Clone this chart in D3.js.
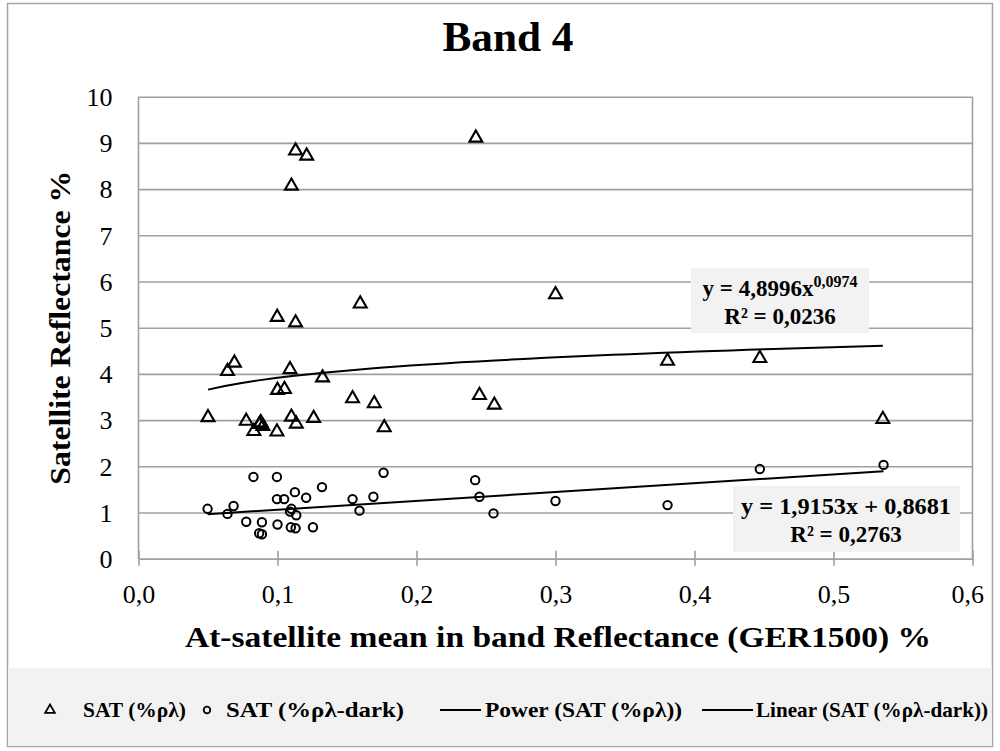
<!DOCTYPE html>
<html>
<head>
<meta charset="utf-8">
<script src="https://cdn.jsdelivr.net/npm/d3@7"></script>
<style>
  html, body { margin: 0; padding: 0; background: #fff; }
  svg text { font-family: "Palatino Linotype", "Book Antiqua", Palatino, "Liberation Serif", serif; fill: #000; }
</style>
</head>
<body>
<svg id="chart" width="1000" height="751"></svg>
<script>
// Band 4: satellite reflectance vs. at-satellite in-band reflectance (GER1500)
const satX = [0.050, 0.064, 0.069, 0.0775, 0.083, 0.087, 0.088, 0.0895, 0.0996, 0.100,
              0.105, 0.109, 0.110, 0.1135, 0.126, 0.1324, 0.154, 0.1696, 0.1768, 0.0998,
              0.113, 0.113, 0.121, 0.110, 0.1595, 0.2427, 0.300, 0.2453, 0.256, 0.3806,
              0.447, 0.5355];
const satY = [3.08, 4.08, 4.26, 3.00, 2.78, 2.93, 2.97, 2.89, 2.77, 3.67,
              3.69, 4.12, 3.09, 2.94, 3.06, 3.94, 3.49, 3.38, 2.86, 5.25,
              5.13, 8.85, 8.74, 8.09, 5.54, 9.13, 5.74, 3.56, 3.35, 4.30,
              4.36, 3.04];

const darkX = [0.0497, 0.064, 0.0684, 0.0827, 0.0775, 0.0888, 0.0868, 0.0888, 0.0996, 0.0996,
               0.1048, 0.100, 0.110, 0.109, 0.1135, 0.1096, 0.113, 0.1125, 0.1206, 0.1255,
               0.132, 0.154, 0.159, 0.169, 0.1763, 0.2422, 0.2453, 0.2554, 0.3806, 0.447,
               0.536, 0.300];
const darkY = [1.08, 0.97, 1.14, 1.77, 0.80, 0.79, 0.55, 0.53, 1.77, 1.29,
               1.29, 0.74, 1.08, 1.02, 0.94, 0.68, 0.66, 1.44, 1.32, 0.68,
               1.55, 1.29, 1.04, 1.34, 1.86, 1.70, 1.34, 0.98, 1.16, 1.94,
               2.03, 1.25];

// Trendline coefficients
const powerFit = { a: 4.8996, b: 0.0974, r2: "0,0236" };
const linearFit = { m: 1.9153, c: 0.8681, r2: "0,2763" };

const xTicks = [0, 0.1, 0.2, 0.3, 0.4, 0.5, 0.6];
const yTicks = [0, 1, 2, 3, 4, 5, 6, 7, 8, 9, 10];
const legendLabels = ["SAT (%ρλ)", "SAT (%ρλ-dark)", "Power (SAT (%ρλ))", "Linear (SAT (%ρλ-dark))"];

const svg = d3.select("#chart");
const plot = { left: 138.5, right: 972.5, top: 96.7, bottom: 558.7 };
const x = d3.scaleLinear().domain([0, 0.6]).range([plot.left, plot.right]);
const y = d3.scaleLinear().domain([0, 10]).range([plot.bottom, plot.top]);
const comma = v => d3.format(".1f")(v).replace(".", ",");

// chart frame
svg.append("rect").attr("x", 7.5).attr("y", 3.5).attr("width", 985).attr("height", 743)
  .attr("fill", "#fff").attr("stroke", "#a6a6a6").attr("stroke-width", 1.5);
// legend band
svg.append("rect").attr("x", 8.25).attr("y", 668).attr("width", 983.5).attr("height", 77.75)
  .attr("fill", "#f2f2f2");

// title
svg.append("text").attr("x", 508).attr("y", 51).attr("text-anchor", "middle")
  .style("font-size", "43px").style("font-weight", "bold")
  .attr("textLength", 131).attr("lengthAdjust", "spacingAndGlyphs").text("Band 4");

// horizontal gridlines
const yAxis = d3.axisLeft(y).tickValues(yTicks).tickSize(-(plot.right - plot.left)).tickPadding(26)
  .tickFormat(d3.format("d"));
const gy = svg.append("g").attr("transform", `translate(${plot.left},0)`).call(yAxis);
gy.select(".domain").remove();
gy.selectAll(".tick line").attr("stroke", "#a0a0a0").attr("stroke-width", 1.6);
gy.selectAll(".tick text").style("font-size", "26px").attr("dy", "0.34em");

// right border of plot area
svg.append("line").attr("x1", plot.right).attr("x2", plot.right).attr("y1", plot.top).attr("y2", plot.bottom)
  .attr("stroke", "#a0a0a0").attr("stroke-width", 1.6);

// x axis with cross ticks
const xAxis = d3.axisBottom(x).tickValues(xTicks).tickSize(0).tickFormat(comma);
const gx = svg.append("g").attr("transform", `translate(0,${plot.bottom})`).call(xAxis);
gx.select(".domain").attr("stroke", "#a0a0a0").attr("stroke-width", 1.6);
gx.selectAll(".tick line").attr("y1", -8).attr("y2", 7).attr("stroke", "#a0a0a0").attr("stroke-width", 1.6);
gx.selectAll(".tick text").style("font-size", "26px").attr("y", 44).attr("dy", 0);
gx.selectAll(".tick").filter(d => d === 0.6).select("text").attr("text-anchor", "end").attr("x", 11);

// left axis line
svg.append("line").attr("x1", plot.left).attr("x2", plot.left).attr("y1", plot.top).attr("y2", plot.bottom)
  .attr("stroke", "#a0a0a0").attr("stroke-width", 1.6);

// axis titles
svg.append("text").attr("x", 558).attr("y", 647).attr("text-anchor", "middle")
  .style("font-size", "30px").style("font-weight", "bold")
  .attr("textLength", 746).attr("lengthAdjust", "spacingAndGlyphs")
  .text("At-satellite mean in band Reflectance (GER1500) %");
svg.append("text").attr("transform", `translate(70,${(plot.top + plot.bottom) / 2}) rotate(-90)`)
  .attr("text-anchor", "middle")
  .style("font-size", "30px").style("font-weight", "bold")
  .attr("textLength", 314).attr("lengthAdjust", "spacingAndGlyphs")
  .text("Satellite Reflectance %");

// trendlines
const powerPts = d3.range(0, 41).map(i => {
  const xv = d3.min(satX) + (d3.max(satX) - d3.min(satX)) * i / 40;
  return [xv, powerFit.a * Math.pow(xv, powerFit.b)];
});
const linPts = [d3.min(darkX), d3.max(darkX)].map(xv => [xv, linearFit.m * xv + linearFit.c]);
const line = d3.line().x(d => x(d[0])).y(d => y(d[1]));
svg.append("path").datum(powerPts).attr("d", line).attr("fill", "none").attr("stroke", "#000").attr("stroke-width", 2);
svg.append("path").datum(linPts).attr("d", line).attr("fill", "none").attr("stroke", "#000").attr("stroke-width", 2);

// markers
const tri = d3.symbol().type(d3.symbolTriangle).size(72);
svg.append("g").selectAll("path").data(satX.map((v, i) => [v, satY[i]])).join("path")
  .attr("d", tri).attr("transform", d => `translate(${x(d[0])},${y(d[1]) + 1})`)
  .attr("fill", "none").attr("stroke", "#000").attr("stroke-width", 2.1);
svg.append("g").selectAll("circle").data(darkX.map((v, i) => [v, darkY[i]])).join("circle")
  .attr("cx", d => x(d[0])).attr("cy", d => y(d[1])).attr("r", 4.2)
  .attr("fill", "none").attr("stroke", "#000").attr("stroke-width", 2);

// equation labels
function eqBox(bx, by, bw, bh) {
  svg.append("rect").attr("x", bx).attr("y", by).attr("width", bw).attr("height", bh).attr("fill", "#f2f2f2");
}
eqBox(691, 268, 178, 65);
const pt = svg.append("text").attr("x", 780).attr("y", 296).attr("text-anchor", "middle")
  .style("font-size", "23px").style("font-weight", "bold");
pt.append("tspan").text("y = " + String(powerFit.a).replace(".", ",") + "x");
pt.append("tspan").attr("dy", -9).style("font-size", "16px").text(String(powerFit.b).replace(".", ","));
svg.append("text").attr("x", 780).attr("y", 324).attr("text-anchor", "middle")
  .style("font-size", "23px").style("font-weight", "bold").text("R² = " + powerFit.r2);

eqBox(733, 486, 227, 66);
svg.append("text").attr("x", 846).attr("y", 514).attr("text-anchor", "middle")
  .style("font-size", "23px").style("font-weight", "bold")
  .attr("textLength", 210).attr("lengthAdjust", "spacingAndGlyphs")
  .text("y = " + String(linearFit.m).replace(".", ",") + "x + " + String(linearFit.c).replace(".", ","));
svg.append("text").attr("x", 846).attr("y", 542).attr("text-anchor", "middle")
  .style("font-size", "23px").style("font-weight", "bold").text("R² = " + linearFit.r2);

// legend
const legY = 710;
const lg = svg.append("g");
lg.append("path").attr("d", d3.symbol().type(d3.symbolTriangle).size(40)).attr("transform", `translate(50,${legY})`)
  .attr("fill", "none").attr("stroke", "#000").attr("stroke-width", 1.8);
lg.append("circle").attr("cx", 207).attr("cy", legY).attr("r", 3.3).attr("fill", "none").attr("stroke", "#000").attr("stroke-width", 1.8);
lg.append("line").attr("x1", 440).attr("x2", 481).attr("y1", legY).attr("y2", legY).attr("stroke", "#000").attr("stroke-width", 2);
lg.append("line").attr("x1", 702).attr("x2", 753).attr("y1", legY).attr("y2", legY).attr("stroke", "#000").attr("stroke-width", 2);
const legText = [{ x: 83, w: 103 }, { x: 226, w: 178 }, { x: 485, w: 197 }, { x: 756, w: 232 }];
legText.forEach((p, i) => {
  lg.append("text").attr("x", p.x).attr("y", legY + 7)
    .style("font-size", "21px").style("font-weight", "bold")
    .attr("textLength", p.w).attr("lengthAdjust", "spacingAndGlyphs").text(legendLabels[i]);
});
</script>
</body>
</html>
